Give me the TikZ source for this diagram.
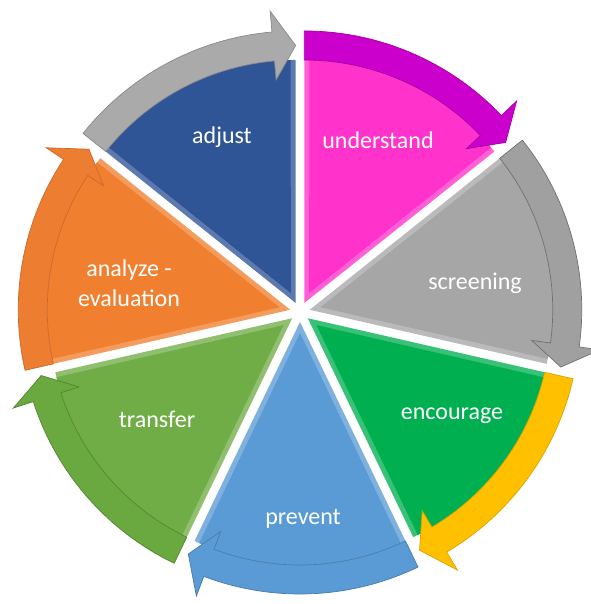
\documentclass[tikz,border=0pt]{standalone}
\usepackage{fontspec}
\setmainfont{Carlito}
\definecolor{cAdjust}{RGB}{47,85,151}
\definecolor{cAdjustBand}{RGB}{170,170,170}
\definecolor{cUnder}{RGB}{255,51,204}
\definecolor{cUnderBand}{RGB}{204,0,204}
\definecolor{cScreen}{RGB}{166,166,166}
\definecolor{cScreenBand}{RGB}{160,160,160}
\definecolor{cEnc}{RGB}{0,176,80}
\definecolor{cEncBand}{RGB}{255,192,0}
\definecolor{cPrev}{RGB}{91,155,213}
\definecolor{cPrevBand}{RGB}{91,155,213}
\definecolor{cTrans}{RGB}{112,173,71}
\definecolor{cTransBand}{RGB}{106,168,64}
\definecolor{cAna}{RGB}{240,128,48}
\definecolor{cAnaBand}{RGB}{237,125,49}
\newcommand\cyclesector[4]{%
 \begin{scope}[shift={(300,292)}, shift={(#1+25.714:10)}]
  \pgfmathsetmacro\sA{#1}
  \pgfmathsetmacro\sB{#1+51.429}
  \pgfmathsetmacro\sH{#1+5}
  \pgfmathsetmacro\sM{#1+25.714}
  \fill[#2!78!white] (0,0) -- (\sB:243) arc[start angle=\sB, end angle=\sA, radius=243pt] -- cycle;
  \fill[#2] (\sM:11) -- (\sB-1.2:243) arc[start angle=\sB-1.2, end angle=\sA+1.2, radius=243pt] -- cycle;
  \filldraw[fill=#3, draw=#4, line width=0.7pt] (\sB:243) -- (\sB:272)
    arc[start angle=\sB, end angle=\sH, radius=272pt] -- (\sH:293) -- (\sA:257.5)
    -- (\sH:224) -- (\sH:243) arc[start angle=\sH, end angle=\sB, radius=243pt] -- cycle;
 \end{scope}}
\begin{document}
\begin{tikzpicture}[x=1pt,y=1pt,
  lbl/.style={text=white, font=\fontsize{24}{30}\selectfont, align=center, inner sep=0pt}]
\useasboundingbox (0,0) rectangle (590,604);
\cyclesector{90}{cAdjust}{cAdjustBand}{cAdjustBand!80!black}
\cyclesector{38.571}{cUnder}{cUnderBand}{cUnderBand!80!black}
\cyclesector{-12.857}{cScreen}{cScreenBand}{cScreenBand!70!black}
\cyclesector{-64.286}{cEnc}{cEncBand}{cEncBand!85!black}
\cyclesector{-115.714}{cPrev}{cPrevBand}{cPrevBand!80!black}
\cyclesector{-167.143}{cTrans}{cTransBand}{cTransBand!80!black}
\cyclesector{141.429}{cAna}{cAnaBand}{cAnaBand!85!black}
\node[lbl] (adjust) at (222,467) {adjust};
\node[lbl] (understand) at (378,464) {understand};
\node[lbl] (screening) at (475,321) {screening};
\node[lbl] (encourage) at (452,188) {encourage};
\node[lbl] (prevent) at (303,85) {prevent};
\node[lbl] (transfer) at (157,185) {transfer};
\node[lbl] (analyze) at (129,321) {analyze -\\evaluation};
\end{tikzpicture}
\end{document}
